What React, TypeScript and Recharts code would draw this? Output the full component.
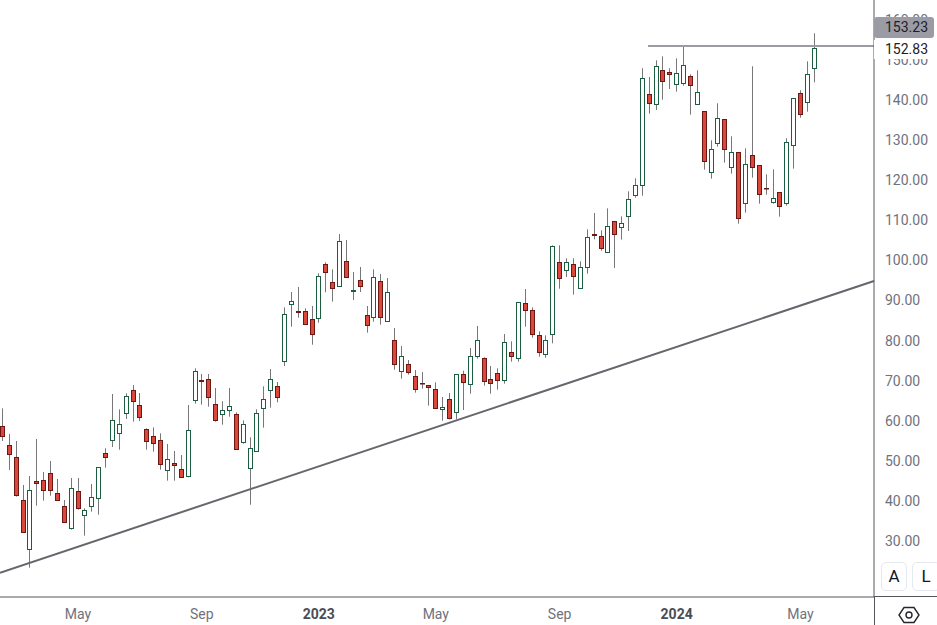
import React from "react";
import { Bar, ComposedChart, ReferenceLine, XAxis, YAxis } from "recharts";

const opens = [
  58.6, 53.86, 50.87, 40.14, 27.92, 44.88, 45.13, 46.88, 41.89, 38.65,
  33.08, 42.39, 36.4, 38.65, 40.64, 51.87, 55.11, 56.86, 61.85, 67.58,
  63.84, 57.85, 56.11, 55.11, 47.63, 49.37, 47.88, 46.13, 65.09, 70.08,
  70.33, 64.09, 61.6, 62.59, 61.6, 54.61, 48.13, 52.37, 63.09, 67.58,
  68.58, 74.81, 89.03, 87.37, 87.29, 85.29, 85.54, 99.01, 94.52, 93.52,
  99.76, 92.28, 95.02, 86.29, 85.79, 94.77, 84.79, 80.05, 72.32, 74.07,
  71.07, 69.33, 68.83, 67.83, 62.84, 65.34, 62.09, 71.57, 69.08, 76.06,
  75.56, 70.32, 71.82, 70.07, 77.06, 75.56, 89.28, 87.54, 81.3, 76.56,
  81.55, 99.51, 97.52, 99.01, 93.03, 98.26, 106.5, 106.0, 102.01, 109.74,
  108.24, 110.99, 116.23, 118.72, 141.42, 138.93, 147.41, 146.91, 143.92, 144.17,
  145.91, 138.93, 137.18, 121.97, 129.2, 135.19, 123.21, 126.95, 114.23, 126.21,
  123.71, 117.97, 114.73, 116.98, 114.23, 128.7, 141.67, 139.43, 147.91,
];

const highs = [
  63.09, 56.69, 54.94, 43.97, 46.21, 55.44, 47.21, 49.96, 45.47, 40.23,
  45.71, 45.71, 38.15, 44.22, 48.38, 53.12, 66.67, 62.84, 66.83, 68.91,
  66.92, 58.1, 58.35, 56.86, 54.2, 52.45, 51.45, 63.92, 73.07, 71.66,
  71.66, 68.17, 64.84, 68.17, 62.1, 60.1, 55.86, 62.84, 68.58, 72.9,
  69.66, 88.28, 92.11, 93.36, 88.03, 88.62, 96.77, 99.51, 97.76, 106.58,
  105.08, 97.1, 98.35, 88.62, 97.76, 96.6, 95.6, 83.13, 78.64, 75.15,
  72.65, 72.15, 68.83, 69.58, 65.92, 66.91, 71.57, 72.49, 78.14, 83.63,
  75.81, 73.65, 73.07, 81.63, 79.8, 89.53, 92.86, 88.28, 82.3, 81.3,
  103.75, 103.75, 100.51, 100.51, 99.76, 107.74, 111.82, 107.49, 112.98, 109.74,
  110.99, 117.22, 120.47, 147.91, 145.75, 149.9, 150.9, 147.91, 150.4, 153.31,
  146.41, 147.41, 137.18, 129.95, 139.18, 135.19, 130.95, 126.95, 127.95, 148.41,
  123.71, 121.47, 122.71, 116.98, 130.45, 140.42, 142.42, 149.65, 156.64,
];

const lows = [
  54.94, 47.71, 41.06, 32.16, 23.35, 38.81, 40.06, 41.31, 40.14, 34.66,
  32.83, 37.82, 31.33, 37.32, 36.57, 48.29, 53.45, 52.78, 60.43, 59.77,
  59.93, 52.78, 52.28, 47.79, 45.05, 45.05, 45.88, 45.88, 64.26, 64.01,
  63.51, 59.77, 59.02, 61.01, 52.87, 54.28, 39.06, 52.37, 58.27, 63.26,
  64.59, 73.65, 83.46, 85.71, 84.04, 78.97, 84.46, 92.03, 89.7, 93.52,
  95.77, 90.11, 92.11, 81.97, 84.71, 83.96, 84.79, 72.74, 70.49, 71.49,
  67.0, 68.0, 63.76, 63.09, 60.01, 60.35, 60.35, 62.67, 66.75, 75.48,
  68.75, 66.75, 67.75, 69.24, 74.73, 74.73, 83.46, 80.72, 75.98, 75.73,
  79.31, 92.94, 95.85, 91.45, 93.03, 96.68, 105.25, 102.42, 102.01, 98.1,
  105.17, 107.33, 115.65, 116.14, 136.6, 137.51, 140.09, 142.75, 142.09, 143.58,
  136.35, 138.93, 122.63, 120.39, 128.37, 124.38, 121.63, 109.16, 111.9, 120.63,
  114.15, 116.39, 114.15, 110.91, 113.65, 122.88, 135.6, 137.1, 144.41,
];

const closes = [
  56.11, 51.54, 41.31, 32.16, 42.64, 44.3, 42.64, 42.64, 40.14, 34.66,
  43.14, 38.15, 37.65, 40.89, 48.38, 50.87, 60.1, 59.1, 66.09, 64.84,
  60.85, 54.86, 54.36, 49.12, 50.37, 48.87, 45.88, 57.6, 72.32, 69.83,
  65.84, 60.1, 62.59, 63.59, 52.87, 59.1, 53.12, 61.85, 65.34, 70.33,
  65.84, 86.54, 89.78, 87.2, 84.04, 81.55, 96.02, 97.02, 93.02, 104.75,
  95.77, 92.53, 93.52, 83.79, 95.77, 85.79, 92.03, 74.07, 76.06, 72.07,
  67.83, 69.24, 68.33, 63.09, 63.34, 60.6, 71.57, 69.58, 76.06, 80.05,
  69.83, 69.33, 70.07, 79.55, 76.06, 89.53, 87.54, 81.55, 77.06, 80.05,
  103.5, 95.52, 99.51, 96.02, 98.26, 105.75, 106.25, 103.0, 108.49, 106.5,
  109.24, 115.23, 118.72, 145.41, 139.18, 148.41, 144.66, 146.41, 146.66, 148.66,
  143.67, 141.92, 124.71, 127.7, 135.43, 127.7, 126.95, 110.49, 123.96, 123.21,
  116.48, 117.89, 115.65, 113.48, 129.45, 140.42, 136.43, 146.41, 152.9,
];

const priceTicks = [30, 40, 50, 60, 70, 80, 90, 100, 110, 120, 130, 140, 150, 160];
const timeTicks = [11, 29, 46, 63, 81, 98, 116];
const timeLabels = ["May", "Sep", "2023", "May", "Sep", "2024", "May"];

// the visible window runs past the last candle, same units as the week index
const weekDomain = [-0.334, 126.68];
const priceDomain = [16.03, 164.95];
const trendStart = 22.09;
const trendEnd = 94.85;
const resistance = 153.45;
const resistanceFrom = 93.84;

const data = opens.map((open, i) => ({
  week: i,
  open,
  high: highs[i],
  low: lows[i],
  close: closes[i],
  range: [lows[i], highs[i]],
}));

const FONT = "Roboto, sans-serif";
const TEXT_GREY = "#6f727c";
const LINE_GREY = "#55565c";

const Candle = (props: any) => {
  const { x, y, width, height, payload } = props;
  const { open, high, low, close } = payload;
  const perUnit = height / (high - low);
  const up = close >= open;
  const top = y + (high - Math.max(open, close)) * perUnit;
  const bodyH = Math.abs(open - close) * perUnit;
  const cx = Math.floor(x + width / 2) + 0.5;
  return (
    <g>
      <line x1={cx} x2={cx} y1={y} y2={y + height} stroke="#77777a" strokeWidth={1} />
      <rect
        x={cx - 2}
        y={Math.round(top) + 0.5}
        width={4}
        height={Math.max(Math.round(bodyH), 0.5)}
        fill={up ? "#ffffff" : "#d9483a"}
        stroke={up ? "#1b5e3f" : "#6e1712"}
        strokeWidth={1}
      />
    </g>
  );
};

const TimeTick = (props: any) => {
  const { x, y, payload } = props;
  const label = timeLabels[timeTicks.indexOf(payload.value)];
  const isYear = label.length === 4;
  return (
    <text
      x={x}
      y={y + 10}
      dy={4}
      textAnchor="middle"
      fontFamily={FONT}
      fontSize={14}
      fontWeight={isYear ? 700 : 400}
      fill={isYear ? "#4a4c54" : TEXT_GREY}
    >
      {label}
    </text>
  );
};

const boxStyle: React.CSSProperties = {
  position: "absolute",
  boxSizing: "border-box",
  top: 562,
  height: 29,
  border: "1px solid #e6e8f0",
  borderRadius: 5,
  background: "#fff",
  color: "#131722",
  fontFamily: FONT,
  fontSize: 17,
  lineHeight: "27px",
  textAlign: "center",
};

const priceStyle: React.CSSProperties = {
  position: "absolute",
  left: 874,
  paddingLeft: 11,
  fontFamily: FONT,
  fontSize: 14,
  color: "#1f2025",
  boxSizing: "border-box",
};

export default function App() {
  return (
    <div style={{ position: "absolute", left: 0, top: 0, width: 937, height: 625, background: "#fff", overflow: "hidden" }}>
      <ComposedChart width={937} height={625} data={data} margin={{ top: 0, right: 0, bottom: 0, left: 0 }}>
        <XAxis
          dataKey="week"
          type="number"
          domain={weekDomain}
          ticks={timeTicks}
          interval={0}
          height={28}
          tick={<TimeTick />}
          tickLine={false}
          axisLine={{ stroke: LINE_GREY }}
        />
        <YAxis
          orientation="right"
          type="number"
          domain={priceDomain}
          ticks={priceTicks}
          interval={0}
          width={63}
          tickLine={false}
          tickMargin={5}
          tickFormatter={(v: number) => v.toFixed(2)}
          tick={{ fontFamily: FONT, fontSize: 14, fill: TEXT_GREY, textAnchor: "start" }}
          axisLine={{ stroke: LINE_GREY }}
        />
        <ReferenceLine
          segment={[
            { x: weekDomain[0], y: trendStart },
            { x: weekDomain[1], y: trendEnd },
          ]}
          stroke="#66666f"
          strokeWidth={2}
        />
        <ReferenceLine
          segment={[
            { x: resistanceFrom, y: resistance },
            { x: weekDomain[1], y: resistance },
          ]}
          stroke="#9b9ba6"
          strokeWidth={2}
        />
        <Bar dataKey="range" barSize={5} shape={<Candle />} isAnimationActive={false} />
      </ComposedChart>

      <div style={{ position: "absolute", left: 874, top: 597, width: 1, height: 28, background: LINE_GREY }} />
      <div style={{ position: "absolute", left: 874, top: 596, width: 63, height: 1, background: LINE_GREY }} />

      <div style={{ ...priceStyle, top: 40, width: 62, height: 19, lineHeight: "19px", background: "#fff" }}>152.83</div>
      <div style={{ ...priceStyle, top: 17, width: 60, height: 21, lineHeight: "21px", background: "#9b9ba6", borderRadius: "3px" }}>153.23</div>

      <div style={{ ...boxStyle, left: 881, width: 26 }}>A</div>
      <div style={{ ...boxStyle, left: 912, width: 28 }}>L</div>

      <svg style={{ position: "absolute", left: 897, top: 605 }} width={24} height={20}>
        <path d="M7 2.5 H17 L22 10 L17 17.5 H7 L2 10 Z" fill="none" stroke="#26272c" strokeWidth={1.4} />
        <circle cx={12} cy={10} r={3} fill="none" stroke="#26272c" strokeWidth={1.4} />
      </svg>
    </div>
  );
}
